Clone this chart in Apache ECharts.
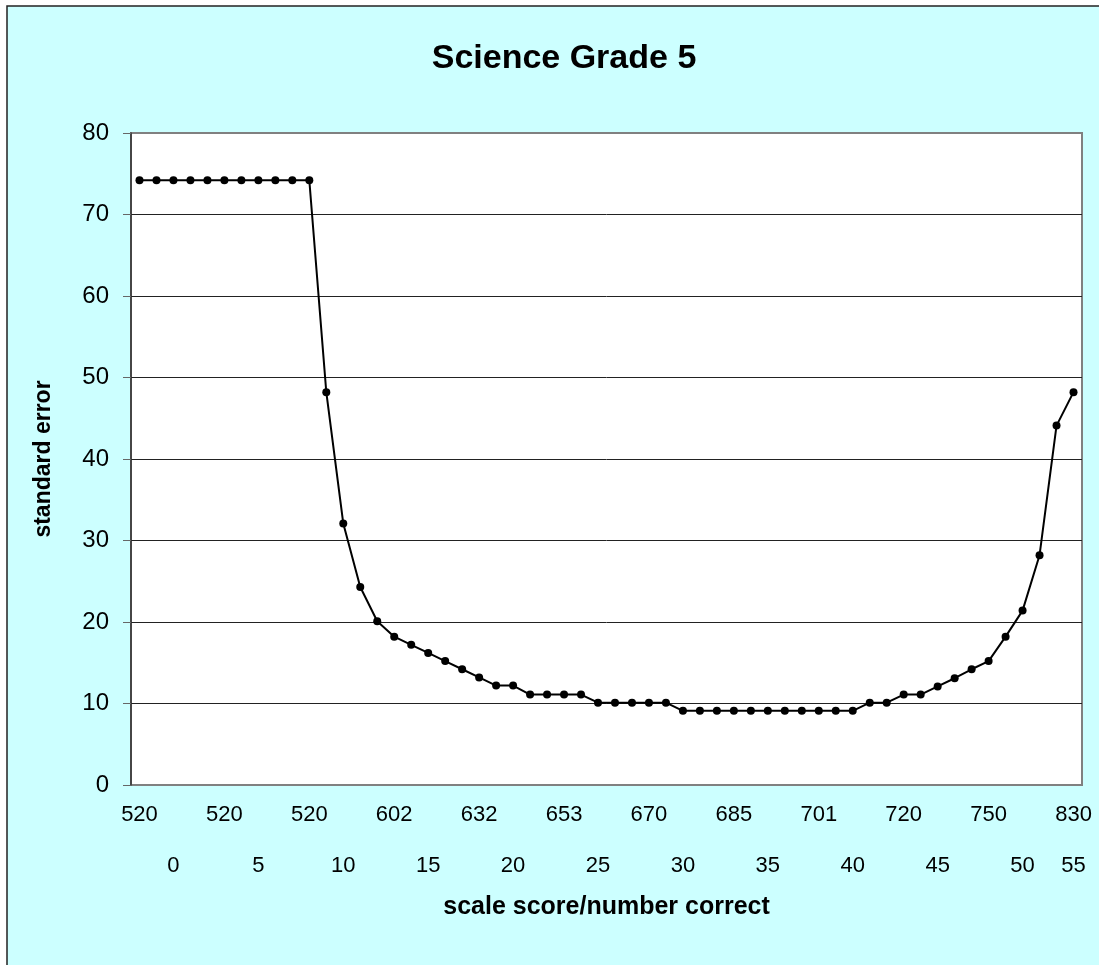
<!DOCTYPE html>
<html>
<head>
<meta charset="utf-8">
<title>Science Grade 5</title>
<script src="https://cdn.jsdelivr.net/npm/echarts@6/dist/echarts.min.js"></script>
<style>
  html, body { margin: 0; padding: 0; background: #fff; }
  #chart { width: 1099px; height: 965px; }
</style>
</head>
<body>
<div id="chart"></div>
<script>
// standard error for each number-correct score 0..55
const standardError = [
  74.2, 74.2, 74.2, 74.2, 74.2, 74.2, 74.2, 74.2, 74.2, 74.2, 74.2,
  48.2, 32.1, 24.3, 20.1, 18.2, 17.2, 16.2, 15.2, 14.2, 13.2, 12.2, 12.2,
  11.1, 11.1, 11.1, 11.1,
  10.1, 10.1, 10.1, 10.1, 10.1,
  9.1, 9.1, 9.1, 9.1, 9.1, 9.1, 9.1, 9.1, 9.1, 9.1, 9.1,
  10.1, 10.1, 11.1, 11.1, 12.1, 13.1, 14.2, 15.2, 18.2, 21.4, 28.2, 44.1, 48.2
]
// scale score shown under every 5th point
const scaleScoreTicks = [520, 520, 520, 602, 632, 653, 670, 685, 701, 720, 750, 830]
// number correct labels (second row) and the category they sit under
const numberCorrectTicks = [0, 5, 10, 15, 20, 25, 30, 35, 40, 45, 50, 55]
const numberCorrectAt = [2, 7, 12, 17, 22, 27, 32, 37, 42, 47, 52, 55]
const yTicks = [0, 10, 20, 30, 40, 50, 60, 70, 80]

const categories = standardError.map((v, i) => String(i))
const font = '"Liberation Sans", Arial, sans-serif'

const chart = echarts.init(document.getElementById('chart'))
chart.setOption({
  animation: false,
  textStyle: { fontFamily: font },
  graphic: [{
    type: 'rect',
    z: -10,
    shape: { x: 7, y: 6, width: 1200, height: 1200 },
    style: { fill: '#CCFFFF', stroke: '#222', lineWidth: 1.5 }
  }],
  title: {
    text: 'Science Grade 5',
    left: 559,
    top: 37,
    textAlign: 'center',
    textStyle: { fontSize: 34, fontWeight: 'bold', color: '#000', fontFamily: font }
  },
  grid: {
    left: 131,
    top: 133,
    right: 17,
    bottom: 180,
    show: true,
    backgroundColor: '#fff',
    borderColor: '#808080',
    borderWidth: 2
  },
  xAxis: [{
    type: 'category',
    data: categories,
    boundaryGap: true,
    name: 'scale score/number correct',
    nameLocation: 'middle',
    nameGap: 110,
    nameTextStyle: { fontSize: 25, fontWeight: 'bold', color: '#000' },
    axisLine: { show: false },
    axisTick: { show: false },
    axisLabel: {
      interval: 4,
      margin: 19,
      fontSize: 22,
      color: '#000',
      formatter: (v, i) => String(scaleScoreTicks[i / 5])
    }
  }, {
    type: 'category',
    data: categories,
    position: 'bottom',
    boundaryGap: true,
    axisLine: { show: false },
    axisTick: { show: false },
    splitLine: { show: false },
    axisLabel: {
      interval: 0,
      margin: 70,
      fontSize: 22,
      color: '#000',
      formatter: (v, i) => {
        const k = numberCorrectAt.indexOf(i)
        return k >= 0 ? String(numberCorrectTicks[k]) : ''
      }
    }
  }],
  yAxis: {
    type: 'value',
    min: yTicks[0],
    max: yTicks[yTicks.length - 1],
    interval: 10,
    name: 'standard error',
    nameLocation: 'middle',
    nameGap: 76,
    nameTextStyle: { fontSize: 23, fontWeight: 'bold', color: '#000' },
    axisLine: { show: true, lineStyle: { color: '#333', width: 1.5 } },
    axisTick: { show: true, inside: false, length: 8, lineStyle: { color: '#666' } },
    axisLabel: { fontSize: 24, color: '#000', margin: 22 },
    splitLine: {
      show: true,
      lineStyle: {
        color: ['#808080', '#222', '#222', '#222', '#222', '#222', '#222', '#222', '#808080'],
        width: 1
      }
    }
  },
  series: [{
    type: 'line',
    data: standardError,
    symbol: 'circle',
    symbolSize: 8,
    showSymbol: true,
    lineStyle: { color: '#000', width: 2 },
    itemStyle: { color: '#000' }
  }]
})
</script>
</body>
</html>
